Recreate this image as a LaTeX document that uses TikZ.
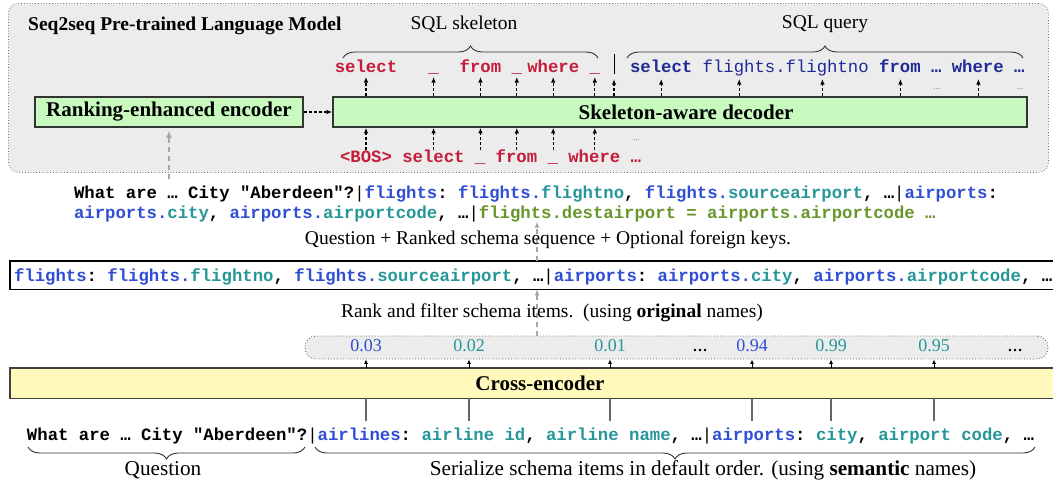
\documentclass[tikz,border=0pt]{standalone}
\usepackage{fontspec}
\setmainfont{Liberation Serif}
\setmonofont{Liberation Mono}
\usetikzlibrary{arrows.meta,decorations.pathreplacing,calc}

\definecolor{sqlred}{RGB}{196,28,58}
\definecolor{sqlnavy}{RGB}{32,42,150}
\definecolor{tblue}{RGB}{48,78,212}
\definecolor{tteal}{RGB}{38,150,152}
\definecolor{fkgreen}{RGB}{104,150,44}
\definecolor{modgreen}{RGB}{200,250,192}
\definecolor{ceyellow}{RGB}{255,250,188}
\definecolor{panelgray}{RGB}{236,236,236}

\newcommand\cdfont{\ttfamily\bfseries\fontsize{17.3}{20}\selectfont}
\newcommand\lblfont{\fontsize{19.5}{22}\selectfont}
\newcommand\biglblfont{\fontsize{21.2}{24}\selectfont}
\newcommand\modfont{\bfseries\fontsize{21}{24}\selectfont}
\newcommand\numfont{\fontsize{18}{20}\selectfont}
\def\cw{10.4}

\begin{document}
\begin{tikzpicture}[x=1pt,y=-1pt,
  code/.style={font=\cdfont,inner sep=0pt,outer sep=0pt,anchor=base west},
  ctok/.style={font=\cdfont,inner sep=0pt,outer sep=0pt,anchor=base,text=sqlred,text depth=5pt},
  lbl/.style={font=\lblfont,inner sep=0pt},
  num/.style={font=\numfont,inner sep=0pt},
  module/.style={draw=black!80,line width=1.6pt,fill=modgreen,font=\modfont,inner sep=0pt},
  darr/.style={line width=1.1pt,dash pattern=on 3pt off 2pt,-{Latex[length=5.5pt,width=4.5pt]}},
  garr/.style={draw=black!35,line width=1.4pt,dash pattern=on 5pt off 4pt,-{Latex[length=7pt,width=6pt]}},
  sarr/.style={line width=0.9pt,-{Latex[length=4.5pt,width=4pt]}},
  gline/.style={draw=black!60,line width=1.6pt},
  brc/.style={decorate,decoration={brace,amplitude=12pt},draw=black!80,line width=0.9pt},
  tinydots/.style={font=\fontsize{9}{9}\selectfont,text=black!50,inner sep=0pt}
]
\useasboundingbox (0,0) rectangle (1053,480);

% ---------------- seq2seq model panel ----------------
\node[draw=black!55,dotted,line width=0.8pt,fill=panelgray,rounded corners=10pt,
      minimum width=1040,minimum height=169,inner sep=0,anchor=north west] (plm) at (8,3) {};
\node[font=\bfseries\fontsize{19.5}{22}\selectfont,inner sep=0,anchor=base west] (ttl) at (28,30)
  {Seq2seq Pre-trained Language Model};

\node[module,minimum width=268,minimum height=30] (enc) at (169,112) {Ranking-enhanced encoder};
\node[module,minimum width=694,minimum height=30] (dec) at (680,112) {\hspace*{12pt}Skeleton-aware decoder};
\draw[darr] (enc) -- (dec);

% decoder input tokens
\node[code,text=sqlred] (inrow) at (340,162) {<BOS> select \_ from \_ where …};
\node[tinydots] (indots) at ({340+28.5*\cw},140) {...};
\foreach \k/\w [count=\i] in {2.5/select,9/\_,13.5/from,17/\_,20.5/where,24.5/\_}{
  \coordinate (in\i) at ({340+\k*\cw},150);
  \node[ctok] (out\i) at ({340+\k*\cw},72) {\w};
  \draw[darr] (in\i) -- (dec.south -| in\i);
  \draw[darr] (dec.north -| out\i) -- (out\i.south);
}
% separator between skeleton and query
\node[inner sep=0,minimum height=20pt,minimum width=0pt] (sep) at (614,64) {};
\draw[line width=0.9pt] (sep.north) -- (sep.south);
\draw[darr] (dec.north -| sep) -- ([yshift=-5pt]sep.south);

% generated SQL query
\node[code,text=sqlnavy] (qrow) at (630,72) {select {\mdseries flights.flightno} from … where …};
\foreach \k [count=\i] in {3,10.5,18.5,26,33.5}{
  \coordinate (q\i) at ({630+\k*\cw},79);
  \draw[darr] (dec.north -| q\i) -- (q\i);
}
\node[tinydots] (qd1) at ({630+29.5*\cw},89) {...};
\node[tinydots] (qd2) at ({630+37.5*\cw},89) {...};

% braces over the outputs
\draw[brc] (343,58) -- (598,58);
\node[lbl] (skl) at (464,24) {SQL skeleton};
\draw[brc] (627,58) -- (1023,58);
\node[lbl] (sqq) at (825,24) {SQL query};

% ---------------- encoder input sequence ----------------
\node[code] (l1) at (74,198) {What are … City "Aberdeen"?{\mdseries|}\textcolor{tblue}{flights}: \textcolor{tblue}{flights.}\textcolor{tteal}{flightno}, \textcolor{tblue}{flights.}\textcolor{tteal}{sourceairport}, …{\mdseries|}\textcolor{tblue}{airports}:};
\node[code] (l2) at (74,218) {\textcolor{tblue}{airports.}\textcolor{tteal}{city}, \textcolor{tblue}{airports.}\textcolor{tteal}{airportcode}, …{\mdseries|}\textcolor{fkgreen}{flights.destairport = airports.airportcode …}};
\draw[garr,shorten <=6pt,shorten >=3pt] (enc.south |- l1.north) -- (enc.south);

\coordinate (ax) at (537,0);

% ranked schema sequence
\node[fill=white,minimum width=1043,minimum height=28,inner sep=0,anchor=north west] (rk) at (10,261) {};
\draw[line width=1.2pt] (rk.north east) -- (rk.north west) -- (rk.south west) -- (rk.south east);
\node[code] (rkrow) at (14,281) {\textcolor{tblue}{flights}: \textcolor{tblue}{flights.}\textcolor{tteal}{flightno}, \textcolor{tblue}{flights.}\textcolor{tteal}{sourceairport}, …{\mdseries|}\textcolor{tblue}{airports}: \textcolor{tblue}{airports.}\textcolor{tteal}{city}, \textcolor{tblue}{airports.}\textcolor{tteal}{airportcode}, …};
\draw[garr,line width=1.1pt,-{Latex[length=6pt,width=5pt]}] (rk.north -| ax) -- (l2.south -| ax);
\node[lbl] (qlab) at (548,240) {Question + Ranked schema sequence + Optional foreign keys.};

% ---------------- cross-encoder ----------------
\node[draw=black!60,dotted,line width=0.9pt,fill=panelgray,rounded corners=11pt,
      minimum width=743,minimum height=23,inner sep=0] (scores) at (676.5,347.5) {};
\draw[garr,line width=1.1pt,-{Latex[length=6pt,width=5pt]}] (scores.north -| ax) -- (rk.south -| ax);
\node[lbl] (rlab) at (552,313) {Rank and filter schema items.\ \ (using \textbf{original} names)};

\node[num,font=\bfseries\fontsize{15}{16}\selectfont] (sd1) at (700,350) {…};
\node[num,font=\bfseries\fontsize{15}{16}\selectfont] (sd2) at (1015,350) {…};

\node[fill=ceyellow,minimum width=1043,minimum height=30,inner sep=0,anchor=north west] (ce) at (10,368) {};
\draw[line width=1.4pt,draw=black!75] (ce.north east) -- (ce.north west) -- (ce.south west) -- (ce.south east);
\node[font=\modfont,inner sep=0] (celab) at (540,383) {Cross-encoder};

\foreach \x/\v/\c [count=\i] in {366/0.03/tblue,469/0.02/tteal,610/0.01/tteal,752/0.94/tblue,831/0.99/tteal,934/0.95/tteal}{
  \node[num,text=\c] (s\i) at (\x,346) {\v};
  \coordinate (b\i) at (\x,421);
  \draw[sarr] (ce.north -| s\i) -- (scores.south -| s\i);
  \draw[gline] (ce.south -| b\i) -- (b\i);
}

% serialized question and schema
\node[code] (brow) at (27,440) {What are … City "Aberdeen"?{\mdseries|}\textcolor{tblue}{airlines}: \textcolor{tteal}{airline id}, \textcolor{tteal}{airline name}, …{\mdseries|}\textcolor{tblue}{airports}: \textcolor{tteal}{city}, \textcolor{tteal}{airport code}, …};
\draw[brc] (305,447) -- (28,447);
\draw[brc] (1035,447) -- (315,447);
\node[lbl,font=\biglblfont] (qn) at (163,470) {Question};
\node[lbl,font=\biglblfont] (ser) at (703,470) {Serialize schema items in default order. (using \textbf{semantic} names)};
\end{tikzpicture}
\end{document}
